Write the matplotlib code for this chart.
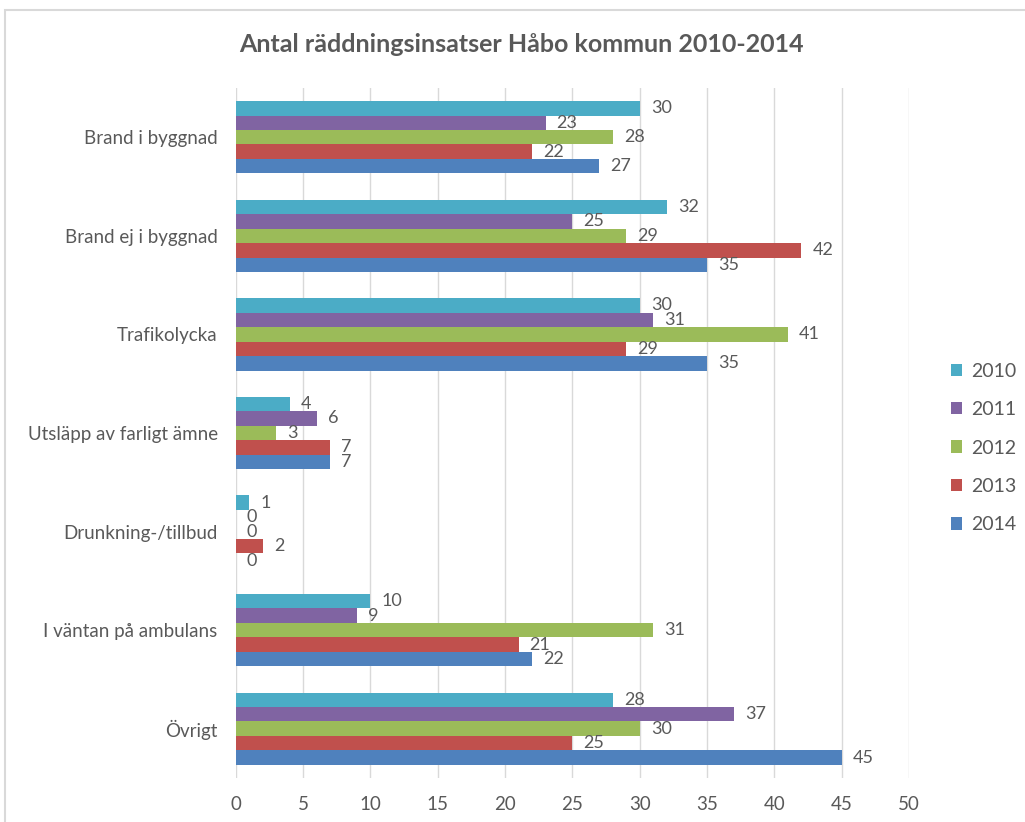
import matplotlib.pyplot as plt
from matplotlib.patches import Rectangle
import numpy as np

plt.rcParams['font.family'] = ['Lato', 'DejaVu Sans']

#----------------------------------------DATA------------------------------------------
categories = ['Brand i byggnad', 'Brand ej i byggnad', 'Trafikolycka',
              'Utsläpp av farligt ämne', 'Drunkning-/tillbud',
              'I väntan på ambulans', 'Övrigt']
years = ['2010', '2011', '2012', '2013', '2014']
v2010 = [30, 32, 30, 4, 1, 10, 28]
v2011 = [23, 25, 31, 6, 0, 9, 37]
v2012 = [28, 29, 41, 3, 0, 31, 30]
v2013 = [22, 42, 29, 7, 2, 21, 25]
v2014 = [27, 35, 35, 7, 0, 22, 45]
colors = ['#4BACC6', '#8064A2', '#9BBB59', '#C0504D', '#4F81BD']
#----------------------------------------DATA------------------------------------------

series = [v2010, v2011, v2012, v2013, v2014]

fig = plt.figure(figsize=(10.25, 8.22), dpi=100)
ax = fig.add_axes([0.230, 0.0535, 0.657, 0.8395])

# light frame around the chart
fig.patches.append(Rectangle((5 / 1025, -0.1), 1.2, 1 - 10 / 822 + 0.1,
                             transform=fig.transFigure, fill=False,
                             edgecolor='#D9D9D9', linewidth=1.5))

y = np.arange(len(categories))
h = 0.147
for i in range(len(years)):
    pos = y + (i - 2) * h
    ax.barh(pos, series[i], height=h, color=colors[i], label=years[i], zorder=3)
    for p, v in zip(pos, series[i]):
        ax.annotate(str(v), (v, p), xytext=(8, 0), textcoords='offset points',
                    va='center', ha='left', fontsize=13, color='#595959')

ax.set_xlim(0, 50)
ax.set_ylim(len(categories) - 0.5, -0.5)
ax.set_xticks(np.arange(0, 51, 5))
ax.set_yticks(y)
ax.set_yticklabels(categories)
ax.tick_params(axis='both', length=0, labelsize=13.5, labelcolor='#595959')
ax.tick_params(axis='x', pad=13)
ax.tick_params(axis='y', pad=13)
ax.grid(axis='x', color='#D9D9D9', linewidth=1, zorder=0)
for s in ax.spines.values():
    s.set_visible(False)

fig.text(521 / 1025, 1 - 45 / 822, 'Antal räddningsinsatser Håbo kommun 2010-2014',
         ha='center', va='center', fontsize=18, fontweight='bold', color='#595959')

fig.legend(loc='center left', bbox_to_anchor=(933 / 1025, 1 - 448 / 822),
           frameon=False, fontsize=14, handlelength=0.6, handleheight=0.6,
           handletextpad=0.45, labelspacing=1.1, labelcolor='#595959')

plt.savefig('out.png', dpi=100)
